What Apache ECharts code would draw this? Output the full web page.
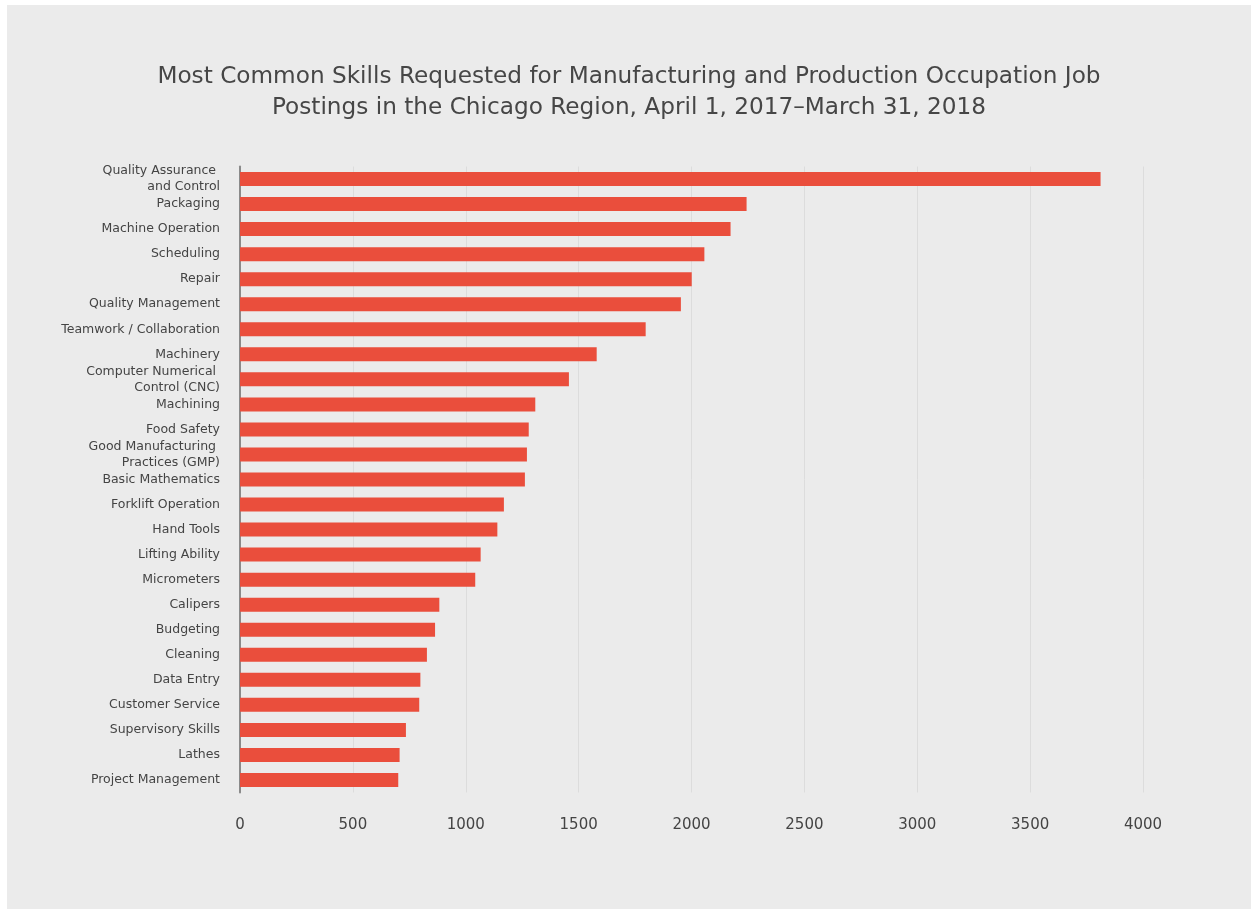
<!DOCTYPE html>
<html>
<head>
<meta charset="utf-8">
<script src="https://cdn.jsdelivr.net/npm/echarts@6/dist/echarts.min.js"></script>
<style>
  html, body { margin: 0; padding: 0; background: #ffffff; }
  #chart { position: absolute; left: 7px; top: 5px; width: 1244px; height: 904px; }
</style>
</head>
<body>
<div id="chart"></div>
<script>
// Skills, listed top to bottom
const skills = [
  'Quality Assurance \nand Control',
  'Packaging',
  'Machine Operation',
  'Scheduling',
  'Repair',
  'Quality Management',
  'Teamwork / Collaboration',
  'Machinery',
  'Computer Numerical \nControl (CNC)',
  'Machining',
  'Food Safety',
  'Good Manufacturing \nPractices (GMP)',
  'Basic Mathematics',
  'Forklift Operation',
  'Hand Tools',
  'Lifting Ability',
  'Micrometers',
  'Calipers',
  'Budgeting',
  'Cleaning',
  'Data Entry',
  'Customer Service',
  'Supervisory Skills',
  'Lathes',
  'Project Management'
];

// Number of job postings requesting each skill
const postings = [
  3812, 2244, 2173, 2057, 2001, 1953, 1797, 1580, 1457, 1308,
  1279, 1271, 1262, 1169, 1140, 1066, 1042, 883, 864, 828,
  799, 794, 735, 707, 701
];

const titleLines = [
  'Most Common Skills Requested for Manufacturing and Production Occupation Job',
  'Postings in the Chicago Region, April 1, 2017\u2013March 31, 2018'
];

const chart = echarts.init(document.getElementById('chart'), null, { renderer: 'canvas' });

chart.setOption({
  backgroundColor: '#ebebeb',
  animation: false,
  title: {
    text: titleLines.join('\n'),
    left: 'center',
    top: 52,
    textStyle: {
      fontFamily: 'DejaVu Sans',
      fontSize: 23.2,
      fontWeight: 'normal',
      color: '#464646',
      lineHeight: 30.5
    }
  },
  grid: {
    left: 233,
    right: 108,
    top: 161.5,
    bottom: 116.5,
    containLabel: false
  },
  xAxis: {
    type: 'value',
    min: 0,
    max: 4000,
    interval: 500,
    axisLine: { show: false },
    axisTick: { show: false },
    splitLine: { show: true, lineStyle: { color: '#dcdcdc', width: 1 } },
    axisLabel: {
      margin: 25,
      fontFamily: 'DejaVu Sans',
      fontSize: 15,
      color: '#444444',
      formatter: v => String(v)
    }
  },
  yAxis: {
    type: 'category',
    inverse: true,
    data: skills,
    axisLine: { show: true, lineStyle: { color: '#8a8a8a', width: 2 } },
    axisTick: { show: false },
    splitLine: { show: false },
    axisLabel: {
      margin: 20,
      fontFamily: 'DejaVu Sans',
      fontSize: 12.5,
      lineHeight: 16,
      color: '#444444'
    }
  },
  series: [{
    type: 'bar',
    data: postings,
    barWidth: 14,
    itemStyle: { color: '#ea4e3c' }
  }]
});
</script>
</body>
</html>
